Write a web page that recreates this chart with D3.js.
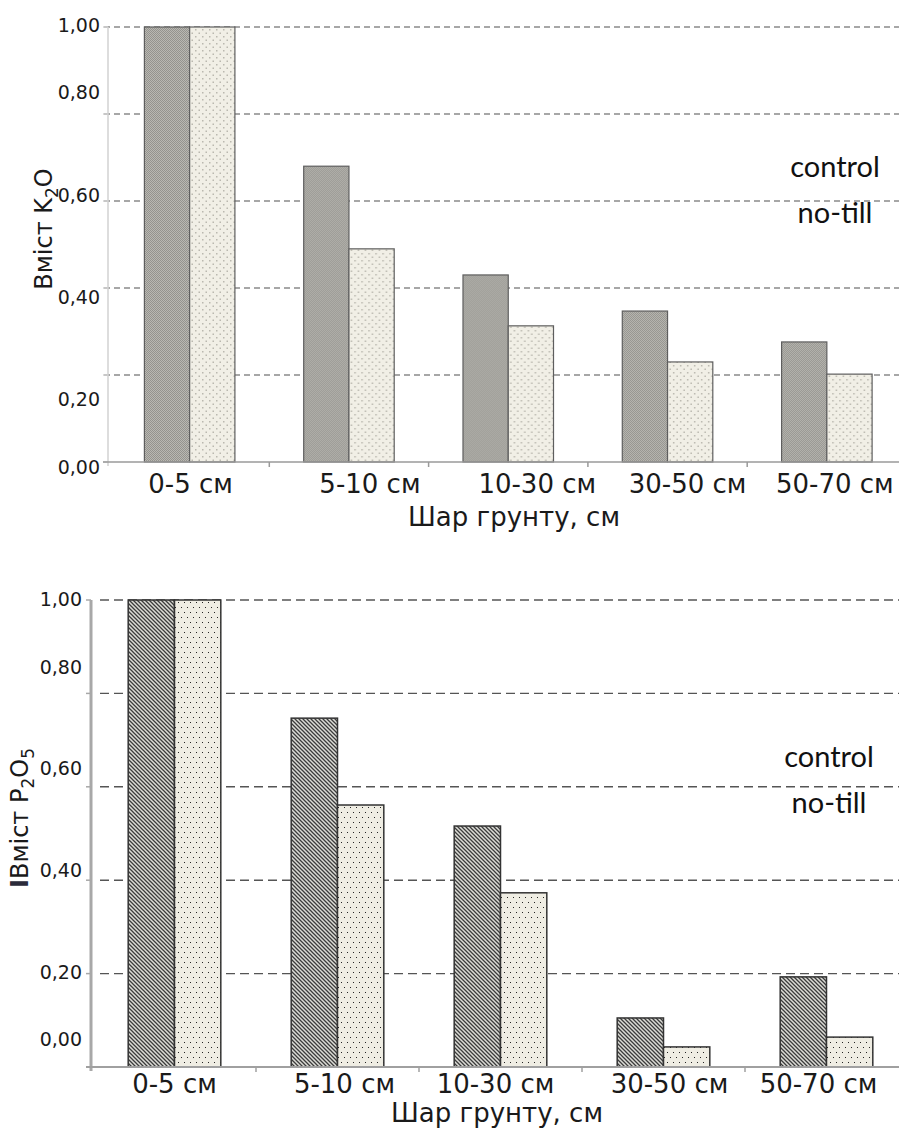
<!DOCTYPE html>
<html>
<head>
<meta charset="utf-8">
<script src="https://cdn.jsdelivr.net/npm/d3@7"></script>
<style>
  html, body { margin: 0; padding: 0; background: #fff; }
  svg { display: block; }
</style>
</head>
<body>
<svg id="chart" width="899" height="1135"></svg>
<script>
// ---------- DATA ----------
const categories = ["0-5 см", "5-10 см", "10-30 см", "30-50 см", "50-70 см"];
const seriesNames = ["control", "no-till"];
const k2oControl = [1.00, 0.68, 0.43, 0.347, 0.276];
const k2oNoTill  = [1.00, 0.49, 0.313, 0.23, 0.202];
const p2o5Control = [1.00, 0.747, 0.516, 0.105, 0.193];
const p2o5NoTill  = [1.00, 0.561, 0.373, 0.043, 0.064];
const yTickValues = [0, 0.2, 0.4, 0.6, 0.8, 1.0];
const yTickLabels = ["0,00", "0,20", "0,40", "0,60", "0,80", "1,00"];
const xTitle = "Шар грунту, см";

// ---------- LAYOUT (style/position constants) ----------
const svg = d3.select("#chart");
const defs = svg.append("defs");

function pat(id, w, h, bg, draw) {
  const p = defs.append("pattern").attr("id", id).attr("patternUnits", "userSpaceOnUse")
    .attr("width", w).attr("height", h);
  p.append("rect").attr("width", w).attr("height", h).attr("fill", bg);
  draw(p);
}
pat("topCtrl", 2, 2, "#b9b8b2", p => {
  p.append("rect").attr("x", 0).attr("y", 0).attr("width", 1).attr("height", 1).attr("fill", "#94938e");
  p.append("rect").attr("x", 1).attr("y", 1).attr("width", 1).attr("height", 1).attr("fill", "#94938e");
});
pat("topNoTill", 7, 7, "#f1efe6", p => {
  p.append("rect").attr("x", 1).attr("y", 1).attr("width", 1.5).attr("height", 1.5).attr("fill", "#bab8af");
  p.append("rect").attr("x", 4.5).attr("y", 4.5).attr("width", 1.5).attr("height", 1.5).attr("fill", "#bab8af");
});
pat("botCtrl", 4, 4, "#dcdcd6", p => {
  p.append("path").attr("d", "M0,0 L4,4 M-1,3 L1,5 M3,-1 L5,1")
    .attr("stroke", "#3c3c3c").attr("stroke-width", 1.3);
});
pat("botNoTill", 6, 10, "#efede3", p => {
  p.append("rect").attr("x", 1).attr("y", 2).attr("width", 1).attr("height", 1).attr("fill", "#222");
  p.append("rect").attr("x", 4).attr("y", 7).attr("width", 1).attr("height", 1).attr("fill", "#222");
});

const charts = [
  {
    control: k2oControl, noTill: k2oNoTill,
    xRange: [110, 906.5], yRange: [462, 27],
    fills: ["url(#topCtrl)", "url(#topNoTill)"], barStroke: "#5e5e5e", barStrokeW: 1.2,
    gridColor: "#8a8a8a", gridDash: "6,4", gridW: 1.3, gridStart: 104,
    yAxisColor: "#d2d2d2", yAxisW: 1.5, xAxisColor: "#9a9a9a", xAxisW: 1.5,
    tickLabelX: 100, tickLabelShift: [5, 24, 9, -6, -22, -2],
    catShift: [1, 21, 29, 20, 8], catBaseline: 493,
    titleX: 514, titleBaseline: 526,
    yTitle: [{t: "Вміст K"}, {t: "2", sub: true}, {t: "O"}],
    yTitleX: 52, yTitleY: 229,
    legend: [{y: 177}, {y: 223}], legendX: 835
  },
  {
    control: p2o5Control, noTill: p2o5NoTill,
    xRange: [93, 908], yRange: [1067, 600],
    fills: ["url(#botCtrl)", "url(#botNoTill)"], barStroke: "#333", barStrokeW: 1.5,
    gridColor: "#555", gridDash: "9,5", gridW: 1.4, gridStart: 100,
    yAxisColor: "#a8a8a8", yAxisW: 3, xAxisColor: "#a0a0a0", xAxisW: 2,
    tickLabelX: 82, tickLabelShift: [-28, -1, -10, -19, -26, -1],
    catShift: [0, 7, -5, 6, -8], catBaseline: 1093,
    titleX: 497, titleBaseline: 1122,
    yTitle: [{t: "I", bold: true}, {t: "Вміст P"}, {t: "2", sub: true}, {t: "O"}, {t: "5", sub: true}],
    yTitleX: 28, yTitleY: 818,
    legend: [{y: 767}, {y: 813}], legendX: 829
  }
];

charts.forEach(c => {
  const g = svg.append("g");
  const x0 = d3.scaleBand().domain(categories).range(c.xRange).paddingInner(0).paddingOuter(0);
  const x1 = d3.scaleBand().domain(seriesNames).range([0, x0.bandwidth()]).paddingInner(0).paddingOuter(0.76);
  const y = d3.scaleLinear().domain([0, 1]).range(c.yRange);

  // gridlines (behind bars)
  g.append("g").selectAll("line").data(yTickValues.filter(v => v > 0)).join("line")
    .attr("x1", c.gridStart).attr("x2", 899)
    .attr("y1", d => y(d)).attr("y2", d => y(d))
    .attr("stroke", c.gridColor).attr("stroke-width", c.gridW).attr("stroke-dasharray", c.gridDash);

  // y axis line + ticks
  g.append("line").attr("x1", c.xRange[0] - 2).attr("x2", c.xRange[0] - 2)
    .attr("y1", y(1)).attr("y2", y(0) + 4)
    .attr("stroke", c.yAxisColor).attr("stroke-width", c.yAxisW);
  g.append("g").selectAll("line").data(yTickValues).join("line")
    .attr("x1", c.xRange[0] - 7).attr("x2", c.xRange[0] - 2)
    .attr("y1", d => y(d)).attr("y2", d => y(d))
    .attr("stroke", c.yAxisColor).attr("stroke-width", 1.5);

  // bars
  const rows = categories.map((cat, i) => ({cat, vals: [c.control[i], c.noTill[i]]}));
  const grp = g.append("g").selectAll("g").data(rows).join("g")
    .attr("transform", d => `translate(${x0(d.cat)},0)`);
  grp.selectAll("rect").data(d => d.vals.map((v, j) => ({s: seriesNames[j], v, j}))).join("rect")
    .attr("x", d => x1(d.s)).attr("width", x1.bandwidth())
    .attr("y", d => y(d.v)).attr("height", d => y(0) - y(d.v))
    .attr("fill", d => c.fills[d.j]).attr("stroke", c.barStroke).attr("stroke-width", c.barStrokeW);

  // x axis
  g.append("line").attr("x1", c.xRange[0] - 7).attr("x2", 899)
    .attr("y1", y(0)).attr("y2", y(0))
    .attr("stroke", c.xAxisColor).attr("stroke-width", c.xAxisW);
  g.append("g").selectAll("line").data(categories.slice(1)).join("line")
    .attr("x1", d => x0(d)).attr("x2", d => x0(d))
    .attr("y1", y(0)).attr("y2", y(0) + 5)
    .attr("stroke", c.xAxisColor).attr("stroke-width", 1.5);

  // tick labels
  g.append("g").selectAll("text").data(yTickValues).join("text")
    .attr("x", c.tickLabelX).attr("y", (d, i) => y(d) + c.tickLabelShift[i])
    .attr("dy", "0.36em").attr("text-anchor", "end")
    .attr("font-family", "DejaVu Sans, Verdana, sans-serif").attr("font-size", 19).attr("fill", "#1a1a1a")
    .text((d, i) => yTickLabels[i]);

  // category labels
  g.append("g").selectAll("text").data(categories).join("text")
    .attr("x", (d, i) => x0(d) + x0.bandwidth() / 2 + c.catShift[i]).attr("y", c.catBaseline)
    .attr("text-anchor", "middle")
    .attr("font-family", "DejaVu Sans, Verdana, sans-serif").attr("font-size", 26).attr("fill", "#1a1a1a")
    .text(d => d);

  // x title
  g.append("text").attr("x", c.titleX).attr("y", c.titleBaseline).attr("text-anchor", "middle")
    .attr("font-family", "DejaVu Sans, Verdana, sans-serif").attr("font-size", 26).attr("fill", "#1a1a1a")
    .text(xTitle);

  // y title
  const yt = g.append("text")
    .attr("transform", `translate(${c.yTitleX},${c.yTitleY}) rotate(-90)`)
    .attr("text-anchor", "middle")
    .attr("font-family", "DejaVu Sans, Verdana, sans-serif").attr("font-size", 24).attr("fill", "#1a1a1a");
  c.yTitle.forEach((part, i) => {
    const ts = yt.append("tspan").text(part.t);
    if (part.sub) { ts.attr("font-size", 17).attr("dy", 6); }
    else if (i > 0 && c.yTitle[i - 1].sub) { ts.attr("dy", -6); }
    if (part.bold) ts.attr("font-weight", "bold").attr("fill", "#2b2b3a");
  });

  // legend text
  g.append("g").selectAll("text").data(seriesNames).join("text")
    .attr("x", c.legendX).attr("y", (d, i) => c.legend[i].y)
    .attr("text-anchor", "middle")
    .attr("font-family", "Lato, 'Open Sans', sans-serif").attr("font-size", 29).attr("fill", "#111")
    .text(d => d);
});
</script>
</body>
</html>
